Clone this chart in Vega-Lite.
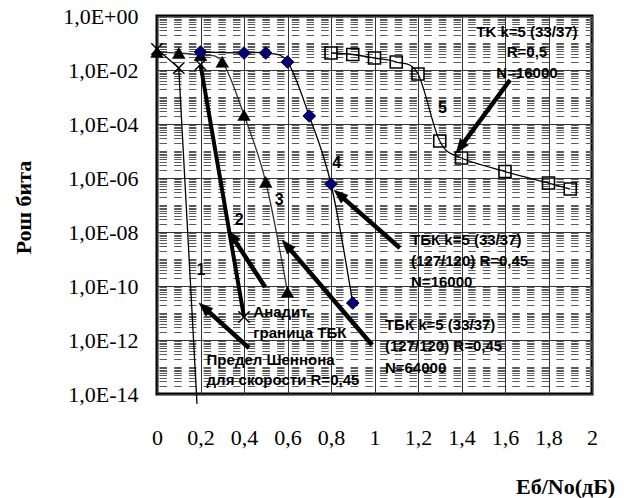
{
  "$schema": "https://vega.github.io/schema/vega-lite/v6.json",
  "width": 435,
  "height": 378,
  "autosize": "none",
  "padding": {"left": 157, "top": 16, "right": 37, "bottom": 104},
  "background": "white",
  "config": {
    "view": {"stroke": "black", "strokeWidth": 3},
    "text": {"font": "Liberation Sans", "fontWeight": "bold", "color": "black"}
  },
  "datasets": {
    "s1": [{"x": 0, "y": 0.06}, {"x": 0.1, "y": 0.0119}, {"x": 0.184, "y": 4.3e-15}],
    "s2": [{"x": 0.2, "y": 0.0158}, {"x": 0.4, "y": 7.1e-12}],
    "s3": [{"x": 0, "y": 0.046}, {"x": 0.1, "y": 0.0426}, {"x": 0.2, "y": 0.035}, {"x": 0.3, "y": 0.02}, {"x": 0.4, "y": 2.15e-4}, {"x": 0.5, "y": 7.1e-7}, {"x": 0.6, "y": 6e-11}],
    "s4": [{"x": 0.2, "y": 0.0464}, {"x": 0.4, "y": 0.0426}, {"x": 0.5, "y": 0.0426}, {"x": 0.6, "y": 0.0198}, {"x": 0.7, "y": 1.98e-4}, {"x": 0.8, "y": 6.0e-7}, {"x": 0.9, "y": 2.34e-11}],
    "s5": [{"x": 0.8, "y": 0.0426}, {"x": 0.9, "y": 0.0375}, {"x": 1.0, "y": 0.0278}, {"x": 1.1, "y": 0.0198}, {"x": 1.2, "y": 7.1e-3}, {"x": 1.3, "y": 2.34e-5}, {"x": 1.4, "y": 5.5e-6}, {"x": 1.6, "y": 1.74e-6}, {"x": 1.8, "y": 6.5e-7}, {"x": 1.9, "y": 3.9e-7}],
    "arrows": [
      {"id": 1, "x": 0.217, "y": 1.58e-11, "x2": 0.423, "y2": 5.06e-13},
      {"id": 2, "x": 0.344, "y": 7.18e-9, "x2": 0.497, "y2": 9.18e-11},
      {"id": 3, "x": 0.596, "y": 3.21e-9, "x2": 0.989, "y2": 6.53e-13},
      {"id": 4, "x": 0.838, "y": 2.43e-7, "x2": 1.117, "y2": 2.55e-9},
      {"id": 5, "x": 1.394, "y": 1.36e-5, "x2": 1.623, "y2": 4.27e-3}
    ],
    "numbers": [
      {"t": "1", "x": 0.202, "y": 3.92e-10},
      {"t": "2", "x": 0.378, "y": 2.78e-8},
      {"t": "3", "x": 0.562, "y": 1.53e-7},
      {"t": "4", "x": 0.826, "y": 3.49e-6},
      {"t": "5", "x": 1.313, "y": 3.8e-4}
    ],
    "textC": [
      {"t": "TK k=5 (33/37)", "x": 1.701, "y": 0.255},
      {"t": "R=0,5", "x": 1.701, "y": 0.0464},
      {"t": "N=16000", "x": 1.701, "y": 7.74e-3}
    ],
    "textL": [
      {"t": "ТБК k=5 (33/37)", "x": 1.168, "y": 5.06e-9},
      {"t": "(127/120) R=0,45", "x": 1.168, "y": 8.43e-10},
      {"t": "N=16000", "x": 1.168, "y": 1.41e-10},
      {"t": "ТБК k=5 (33/37)", "x": 1.048, "y": 3.6e-12},
      {"t": "(127/120) R=0,45", "x": 1.048, "y": 6.17e-13},
      {"t": "N=64000", "x": 1.048, "y": 8.9e-14},
      {"t": "Анадит.", "x": 0.443, "y": 1.12e-11},
      {"t": "граница ТБК", "x": 0.443, "y": 1.78e-12},
      {"t": "Предел Шеннона", "x": 0.228, "y": 1.82e-13},
      {"t": "для скорости R=0,45", "x": 0.228, "y": 3.31e-14}
    ]
  },
  "encoding": {
    "x": {
      "field": "x", "type": "quantitative",
      "scale": {"domain": [0, 2], "nice": false, "zero": false},
      "axis": {
        "values": [0, 0.2, 0.4, 0.6, 0.8, 1, 1.2, 1.4, 1.6, 1.8, 2],
        "grid": true, "gridColor": "#333333", "gridWidth": 1,
        "ticks": false, "domain": false,
        "labelExpr": "replace(format(datum.value, '~g'), '.', ',')",
        "labelFont": "Liberation Serif", "labelFontSize": 22, "labelColor": "black",
        "labelPadding": 33, "labelFlush": false, "labelOverlap": false,
        "title": "Еб/No(дБ)", "titleFont": "Liberation Serif", "titleFontSize": 22,
        "titleFontWeight": "bold", "titleColor": "black",
        "titleX": 408, "titleY": 92, "titleAlign": "center", "titleBaseline": "middle"
      }
    },
    "y": {
      "field": "y", "type": "quantitative",
      "scale": {"type": "log", "domain": [1e-14, 1], "nice": false},
      "axis": {
        "values": [1e-14, 2e-14, 3e-14, 4e-14, 5e-14, 6e-14, 7e-14, 8e-14, 9e-14,
                   1e-13, 2e-13, 3e-13, 4e-13, 5e-13, 6e-13, 7e-13, 8e-13, 9e-13,
                   1e-12, 2e-12, 3e-12, 4e-12, 5e-12, 6e-12, 7e-12, 8e-12, 9e-12,
                   1e-11, 2e-11, 3e-11, 4e-11, 5e-11, 6e-11, 7e-11, 8e-11, 9e-11,
                   1e-10, 2e-10, 3e-10, 4e-10, 5e-10, 6e-10, 7e-10, 8e-10, 9e-10,
                   1e-9, 2e-9, 3e-9, 4e-9, 5e-9, 6e-9, 7e-9, 8e-9, 9e-9,
                   1e-8, 2e-8, 3e-8, 4e-8, 5e-8, 6e-8, 7e-8, 8e-8, 9e-8,
                   1e-7, 2e-7, 3e-7, 4e-7, 5e-7, 6e-7, 7e-7, 8e-7, 9e-7,
                   1e-6, 2e-6, 3e-6, 4e-6, 5e-6, 6e-6, 7e-6, 8e-6, 9e-6,
                   1e-5, 2e-5, 3e-5, 4e-5, 5e-5, 6e-5, 7e-5, 8e-5, 9e-5,
                   1e-4, 2e-4, 3e-4, 4e-4, 5e-4, 6e-4, 7e-4, 8e-4, 9e-4,
                   1e-3, 2e-3, 3e-3, 4e-3, 5e-3, 6e-3, 7e-3, 8e-3, 9e-3,
                   0.01, 0.02, 0.03, 0.04, 0.05, 0.06, 0.07, 0.08, 0.09,
                   0.1, 0.2, 0.3, 0.4, 0.5, 0.6, 0.7, 0.8, 0.9, 1],
        "grid": true,
        "gridDash": {"condition": {"test": "abs(log(datum.value)/LN10 - 2*round(log(datum.value)/LN10/2)) < 0.01", "value": []}, "value": [7.5, 7.2]},
        "gridColor": {"condition": {"test": "abs(log(datum.value)/LN10 - 2*round(log(datum.value)/LN10/2)) < 0.01", "value": "#333333"}, "value": "#5a5a5a"},
        "gridDashOffset": 12.7,
        "gridWidth": 1,
        "ticks": false, "domain": false,
        "labelExpr": "abs(log(datum.value)/LN10 - 2*round(log(datum.value)/LN10/2)) < 0.01 ? (round(log(datum.value)/LN10) == 0 ? '1,0E+00' : '1,0E-' + pad(toString(-round(log(datum.value)/LN10)), 2, '0', 'left')) : ''",
        "labelFont": "Liberation Serif", "labelFontSize": 22, "labelColor": "black",
        "labelPadding": 19, "labelOverlap": false, "labelFlush": false,
        "title": "Рош бита", "titleFont": "Liberation Serif", "titleFontSize": 22,
        "titleFontWeight": "bold", "titleColor": "black",
        "titleX": -134, "titleY": 191, "titleAngle": -90, "titleAlign": "center", "titleBaseline": "middle"
      }
    }
  },
  "layer": [
    {"data": {"name": "s1"}, "mark": {"type": "line", "color": "black", "strokeWidth": 1.3, "clip": false}},
    {"data": {"name": "s2"}, "mark": {"type": "line", "color": "black", "strokeWidth": 4}},
    {"data": {"name": "s3"}, "mark": {"type": "line", "color": "#333333", "strokeWidth": 1.3, "interpolate": "cardinal"}},
    {"data": {"name": "s4"}, "mark": {"type": "line", "color": "black", "strokeWidth": 1.3, "interpolate": "cardinal"}},
    {"data": {"name": "s5"}, "mark": {"type": "line", "color": "black", "strokeWidth": 1.3, "interpolate": "cardinal"}},
    {"data": {"name": "s1"}, "transform": [{"filter": "datum.y >= 1e-14"}], "mark": {"type": "point", "shape": "M-1,-1L1,1M-1,1L1,-1", "filled": false, "stroke": "black", "strokeWidth": 1.5, "size": 130, "opacity": 1}},
    {"data": {"name": "s2"}, "mark": {"type": "point", "shape": "M-1,-1L1,1M-1,1L1,-1", "filled": false, "stroke": "black", "strokeWidth": 1.5, "size": 130, "opacity": 1}},
    {"data": {"name": "s3"}, "mark": {"type": "point", "shape": "triangle-up", "filled": true, "fill": "black", "stroke": "black", "strokeWidth": 0.5, "size": 160, "opacity": 1}},
    {"data": {"name": "s4"}, "mark": {"type": "point", "shape": "diamond", "filled": true, "fill": "#000080", "stroke": "black", "strokeWidth": 1, "size": 160, "opacity": 1}},
    {"data": {"name": "s5"}, "mark": {"type": "point", "shape": "square", "filled": false, "stroke": "black", "strokeWidth": 1.6, "size": 144, "opacity": 1}},
    {"data": {"name": "arrows"}, "mark": {"type": "rule", "color": "black", "strokeWidth": 4.5}, "encoding": {"x2": {"field": "x2"}, "y2": {"field": "y2"}}},
    {"data": {"name": "arrows"}, "mark": {"type": "point", "shape": "M0,-1L0.75,1L-0.75,1Z", "filled": true, "fill": "black", "stroke": "black", "strokeWidth": 0.5, "size": 196, "opacity": 1},
     "encoding": {"angle": {"field": "id", "type": "quantitative", "scale": {"domain": [1, 2, 3, 4, 5], "range": [312, 327, 319.4, 311.3, 216.5]}, "legend": null}}},
    {"data": {"name": "numbers"}, "mark": {"type": "text", "fontSize": 16, "align": "center", "baseline": "middle"}, "encoding": {"text": {"field": "t"}}},
    {"data": {"name": "textC"}, "mark": {"type": "text", "fontSize": 15, "align": "center", "baseline": "middle"}, "encoding": {"text": {"field": "t"}}},
    {"data": {"name": "textL"}, "mark": {"type": "text", "fontSize": 15, "align": "left", "baseline": "middle"}, "encoding": {"text": {"field": "t"}}}
  ]
}
